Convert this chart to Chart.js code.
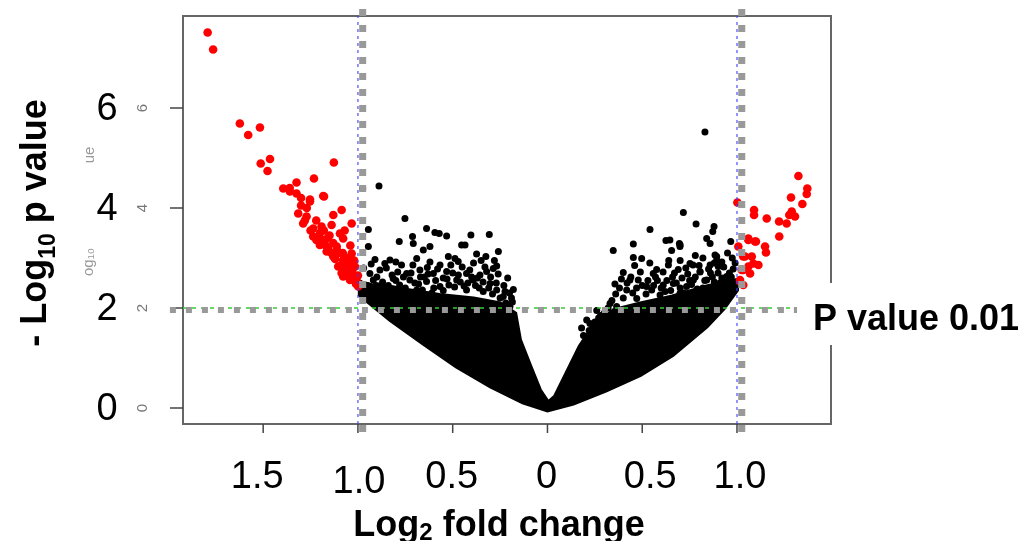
<!DOCTYPE html>
<html>
<head>
<meta charset="utf-8">
<script src="https://cdn.jsdelivr.net/npm/chart.js@4.4.1/dist/chart.umd.min.js"></script>
<style>
html,body{margin:0;padding:0;background:#fff;}
#wrap{width:1031px;height:541px;}
</style>
</head>
<body>
<div id="wrap"><canvas id="volcano" width="1031" height="541"></canvas></div>
<script>
// axis ranges and ticks
const xMin = -1.923, xMax = 1.496;
const yMin = -0.32, yMax = 7.84;
const xTicks = [-1.5, -1, -0.5, 0, 0.5, 1];
const xTickLabels = ['1.5', '1.0', '0.5', '0', '0.5', '1.0'];
const yTicks = [0, 2, 4, 6];
const yTickLabels = ['0', '2', '4', '6'];
const foldCut = 1;
const pCut = 2;

// outline of the solid black cloud of genes
const cloudX = [-0.99,-0.99,-0.83,-0.655,-0.48,-0.30,-0.13,0.0,0.136,0.31,0.49,0.66,0.84,0.93,1.0,1.0,0.84,0.66,0.49,0.35,0.24,0.17,0.10,0.04,0.004,-0.04,-0.09,-0.145,-0.17,-0.25,-0.39,-0.57,-0.74,-0.92];
const cloudY = [2.56,2.26,1.76,1.29,0.83,0.43,0.11,-0.05,0.09,0.35,0.66,1.06,1.63,1.99,2.36,2.56,2.43,2.23,2.09,1.96,1.63,1.23,0.69,0.23,0.11,0.36,0.83,1.36,1.89,2.09,2.19,2.26,2.36,2.49];

// scattered non-significant genes
const nsX = [-0.975,-0.889,-0.752,-0.945,-0.945,-0.638,-0.594,-0.571,-0.532,-0.404,-0.307,-0.782,-0.712,-0.708,-0.655,-0.620,-0.453,-0.435,-0.259,-0.374,-0.325,-0.690,-0.523,-0.488,-0.471,-0.910,-0.831,-0.858,-0.770,-0.634,-0.567,-0.268,-0.286,-0.180,-0.224,-0.198,-0.743,-0.673,-0.602,-0.532,-0.427,-0.356,-0.321,-0.884,-0.937,-0.814,-0.726,-0.638,-0.479,-0.391,-0.303,-0.233,-0.919,-0.567,-0.690,-0.427,-0.339,-0.268,
  -0.86,-0.78,-0.70,-0.60,-0.52,-0.44,-0.36,-0.29,-0.22,-0.19,-0.65,-0.55,-0.47,-0.40,-0.82,
  -0.95,-0.90,-0.87,-0.85,-0.80,-0.79,-0.76,-0.75,-0.72,-0.68,-0.67,-0.63,-0.61,-0.59,-0.58,-0.55,-0.53,-0.50,-0.49,-0.46,-0.45,-0.42,-0.41,-0.38,-0.37,-0.34,-0.33,-0.31,-0.30,-0.27,-0.26,-0.25,-0.23,-0.21,-0.20,-0.185,-0.24,-0.88,-0.84,-0.66,-0.73,-0.97,-0.93,-0.62,-0.51,-0.39,-0.71,-0.80,-0.35,-0.28,
  0.717,0.784,0.541,0.879,0.872,0.840,0.858,0.967,0.646,0.625,0.696,0.699,0.655,0.453,0.347,0.453,0.497,0.893,0.901,0.858,0.752,0.638,0.576,0.558,0.690,0.805,0.400,0.435,0.479,0.356,0.770,0.945,0.523,0.611,0.664,0.734,0.893,0.840,0.418,0.594,0.699,0.471,0.805,0.963,0.330,0.365,0.207,0.242,0.224,0.831,
  0.40,0.45,0.55,0.62,0.70,0.76,0.82,0.88,0.92,0.96,0.50,0.58,0.66,0.74,0.86,0.30,0.27,0.884,0.893,0.768,0.805,0.700,
  0.36,0.38,0.42,0.44,0.47,0.49,0.52,0.53,0.56,0.57,0.60,0.61,0.63,0.65,0.67,0.68,0.71,0.72,0.73,0.75,0.78,0.79,0.80,0.83,0.84,0.85,0.87,0.89,0.90,0.91,0.93,0.94,0.95,0.97,0.98,0.99,0.975,0.95,0.92,0.88,0.32,0.34,0.28,0.25,0.22,0.19,0.18,0.26,0.39,0.46,0.54,0.64,0.70,0.82,0.78];
const nsY = [4.39,4.44,3.79,3.57,3.23,3.59,3.51,3.49,3.44,3.46,3.47,3.33,3.43,3.29,3.16,3.23,3.26,3.26,3.13,3.08,3.03,2.99,3.03,2.99,2.93,2.97,2.96,2.89,2.86,2.81,2.86,2.84,2.79,2.37,2.33,2.03,2.69,2.76,2.69,2.73,2.69,2.66,2.73,2.76,2.69,2.59,2.56,2.53,2.56,2.56,2.49,2.23,2.56,2.43,2.36,2.36,2.33,2.36,
  2.40,2.46,2.50,2.40,2.46,2.44,2.40,2.28,2.10,2.20,2.62,2.60,2.66,2.62,2.66,
  2.45,2.62,2.52,2.80,2.55,2.72,2.62,2.40,2.70,2.48,2.62,2.68,2.30,2.55,2.78,2.35,2.58,2.70,2.42,2.52,2.82,2.50,2.76,2.45,2.60,2.52,2.82,2.40,2.62,2.50,2.68,2.20,2.45,2.60,2.30,2.12,2.00,2.35,2.45,2.36,2.30,2.80,2.88,2.92,2.86,2.90,2.86,2.92,2.95,2.95,
  3.91,3.68,3.57,3.63,3.53,3.39,3.29,3.33,3.36,3.35,3.29,3.23,3.15,3.28,3.15,3.01,2.99,3.03,2.83,2.86,2.89,2.86,2.77,2.69,2.77,2.73,2.71,2.56,2.56,2.48,2.56,2.63,2.43,2.46,2.49,2.43,2.43,2.56,2.36,2.26,2.29,2.19,2.29,2.49,2.09,2.03,1.76,1.63,1.69,5.52,
  2.20,2.30,2.36,2.33,2.40,2.47,2.40,2.52,2.60,2.70,2.45,2.55,2.62,2.68,2.70,1.90,1.80,3.06,2.96,2.86,2.72,3.26,
  2.28,2.40,2.50,2.62,2.40,2.72,2.28,2.55,2.45,2.62,2.40,2.72,2.55,2.35,2.70,2.50,2.60,2.30,2.80,2.55,2.62,2.38,2.85,2.55,2.30,2.78,2.62,2.38,2.70,2.50,2.82,2.45,2.55,2.62,2.78,2.90,3.00,3.10,2.92,2.90,2.00,2.15,1.85,1.72,1.55,1.45,1.60,1.95,2.58,2.85,2.90,2.95,2.95,3.00,3.05];

// significant genes (red)
const sigX = [-1.793,-1.764,-1.623,-1.579,-1.517,-1.513,-1.464,-1.477,-1.127,-1.232,-1.324,-1.394,-1.359,-1.253,-1.183,-1.324,-1.253,-1.179,-1.315,-1.271,-1.130,-1.086,-1.033,-1.289,-1.236,-1.192,-1.139,-1.236,-1.183,-1.095,-1.078,-1.201,-1.157,-1.130,-1.078,-1.033,-1.104,-1.060,-1.025,-1.007,-1.042,-0.998,-1.078,-1.165,-1.219,-1.112,-1.051,-1.016,-1.086,
  -1.28,-1.25,-1.21,-1.17,-1.14,-1.12,-1.09,-1.06,-1.04,-1.01,-1.20,-1.15,-1.10,-1.05,-1.30,
  -1.36,-1.30,-1.27,-1.22,-1.18,-1.16,-1.13,-1.11,-1.08,-1.06,-1.03,-1.00,-1.02,-1.04,-1.07,
  1.324,1.371,1.368,1.285,1.345,1.002,1.090,1.090,1.157,1.222,1.262,1.289,1.306,1.276,1.223,1.060,1.100,1.148,1.153,1.007,1.033,1.078,1.113,1.060,1.025,1.069,1.016,1.033,1.060,1.095,1.042,1.086,1.016,1.033];
const sigY = [7.51,7.17,5.69,5.46,5.61,4.89,4.98,4.74,4.91,4.59,4.51,4.39,4.33,4.17,4.24,4.29,4.13,4.23,3.89,3.83,3.86,3.96,3.69,3.69,3.59,3.63,3.66,3.43,3.36,3.49,3.39,3.26,3.19,3.03,2.96,3.09,2.83,2.76,2.66,2.56,2.56,2.43,2.63,3.13,3.36,3.23,2.89,2.83,2.70,
  3.75,3.55,3.40,3.25,3.10,2.98,2.85,2.70,2.62,2.48,3.50,3.45,3.10,3.00,4.05,
  4.40,4.20,4.00,3.75,3.55,3.40,3.30,3.15,3.10,2.90,2.75,2.65,2.95,3.25,3.55,
  4.64,4.39,4.28,4.21,4.08,4.11,3.96,3.86,3.79,3.73,3.69,3.93,3.83,3.86,3.43,3.39,3.33,3.23,3.11,3.23,3.03,3.03,2.86,2.83,2.76,2.69,2.53,2.46,3.36,3.33,3.03,2.89,2.56,2.76];

const pts = (xs, ys) => xs.map((v, i) => ({x: v, y: ys[i]}));

const FONT = '"Liberation Sans", Arial, Helvetica, sans-serif';

function richText(ctx, parts, cx, baseY, size, subSize, drop) {
    let w = 0;
    parts.forEach(p => {
        ctx.font = 'bold ' + (p[1] ? subSize : size) + 'px ' + FONT;
        w += ctx.measureText(p[0]).width;
    });
    let x = cx - w / 2;
    ctx.textAlign = 'left';
    ctx.textBaseline = 'alphabetic';
    parts.forEach(p => {
        ctx.font = 'bold ' + (p[1] ? subSize : size) + 'px ' + FONT;
        ctx.fillText(p[0], x, baseY + (p[1] ? drop : 0));
        x += ctx.measureText(p[0]).width;
    });
}

// R style box, ticks and the overlaid labels
const frame = {
    id: 'frame',
    beforeDatasetsDraw(chart) {
        const {ctx, chartArea: a, scales: {x, y}} = chart;
        ctx.save();
        ctx.strokeStyle = '#666';
        ctx.lineWidth = 2;
        ctx.strokeRect(a.left, a.top, a.right - a.left, a.bottom - a.top);
        ctx.lineWidth = 1.5;
        ctx.strokeStyle = '#444';
        xTicks.forEach(v => {
            const px = x.getPixelForValue(v);
            ctx.beginPath(); ctx.moveTo(px, a.bottom); ctx.lineTo(px, a.bottom + 9); ctx.stroke();
        });
        yTicks.forEach(v => {
            const py = y.getPixelForValue(v);
            ctx.beginPath(); ctx.moveTo(a.left - 13, py); ctx.lineTo(a.left, py); ctx.stroke();
        });
        // small original tick labels
        ctx.fillStyle = '#777';
        ctx.font = '15px ' + FONT;
        ctx.textAlign = 'center';
        ctx.textBaseline = 'middle';
        yTicks.forEach(v => {
            ctx.save();
            ctx.translate(a.left - 40, y.getPixelForValue(v));
            ctx.rotate(-Math.PI / 2);
            ctx.fillText(String(v), 0, 0);
            ctx.restore();
        });
        // leftovers of the original axis title
        ctx.fillStyle = '#999';
        ctx.save(); ctx.translate(90, 155); ctx.rotate(-Math.PI / 2); ctx.fillText('ue', 0, 0); ctx.restore();
        ctx.save(); ctx.translate(89, 262); ctx.rotate(-Math.PI / 2); ctx.fillText('og\u2081\u2080', 0, 0); ctx.restore();
        ctx.restore();
    },
    afterDraw(chart) {
        const {ctx, chartArea: a, scales: {x, y}} = chart;
        ctx.save();
        // white patch behind the cutoff label
        ctx.fillStyle = '#fff';
        ctx.fillRect(a.right - 34, 283, 240, 62);
        ctx.fillStyle = '#000';
        ctx.font = 'bold 36px ' + FONT;
        ctx.textAlign = 'left';
        ctx.textBaseline = 'alphabetic';
        ctx.fillText('P value 0.01', a.right - 18, y.getPixelForValue(pCut) + 22);

        // big tick labels
        ctx.font = '38px ' + FONT;
        ctx.textAlign = 'center';
        ctx.textBaseline = 'middle';
        yTicks.forEach((v, i) => {
            ctx.fillText(yTickLabels[i], a.left - 76, y.getPixelForValue(v) + 2);
        });
        const dx = [-6, 1, -1, -1, 8, 3];
        const dy = [0, 5, 0, 0, 0, 0];
        ctx.textBaseline = 'alphabetic';
        xTicks.forEach((v, i) => {
            ctx.fillText(xTickLabels[i], x.getPixelForValue(v) + dx[i], a.bottom + 64 + dy[i]);
        });

        // axis titles
        richText(ctx, [['Log', 0], ['2', 1], [' fold change', 0]], 499, 536, 36, 24, 4);
        ctx.save();
        ctx.translate(46, 223);
        ctx.rotate(-Math.PI / 2);
        richText(ctx, [['- Log', 0], ['10', 1], [' p value', 0]], 0, 0, 36, 23, 9);
        ctx.restore();
        ctx.restore();
    }
};

new Chart(document.getElementById('volcano'), {
    type: 'scatter',
    data: {
        datasets: [
            {
                type: 'line',
                data: pts(cloudX, cloudY),
                fill: 'shape',
                backgroundColor: '#000',
                borderColor: '#000',
                borderWidth: 4,
                pointRadius: 0,
                tension: 0,
                order: 4
            },
            {
                data: pts(nsX, nsY),
                backgroundColor: '#000',
                borderWidth: 0,
                pointRadius: 3.5,
                order: 3
            },
            {
                data: pts(sigX, sigY),
                backgroundColor: '#ff0000',
                borderWidth: 0,
                pointRadius: 4.3,
                order: 2
            },
            // cutoff lines
            {
                data: [{x: -foldCut, y: yMin}, {x: -foldCut, y: yMax}],
                showLine: true, borderColor: 'rgba(60,60,255,0.9)', borderWidth: 1.2,
                borderDash: [3, 4], pointRadius: 0, order: 1
            },
            {
                data: [{x: foldCut, y: yMin}, {x: foldCut, y: yMax}],
                showLine: true, borderColor: 'rgba(60,60,255,0.9)', borderWidth: 1.2,
                borderDash: [3, 4], pointRadius: 0, order: 1
            },
            {
                data: [{x: xMin, y: pCut}, {x: xMax, y: pCut}],
                showLine: true, borderColor: '#33cc33', borderWidth: 1.5,
                borderDash: [4, 5], pointRadius: 0, order: 1
            },
            // grey marker lines drawn over the figure
            {
                data: [{x: -0.975, y: 7.98}, {x: -0.975, y: -0.62}],
                showLine: true, borderColor: '#999', borderWidth: 7,
                borderDash: [7, 9], pointRadius: 0, clip: false, order: 0
            },
            {
                data: [{x: 1.025, y: 7.98}, {x: 1.025, y: -0.62}],
                showLine: true, borderColor: '#999', borderWidth: 7,
                borderDash: [7, 9], pointRadius: 0, clip: false, order: 0
            },
            {
                data: [{x: -1.992, y: 1.96}, {x: xMax, y: 1.96}],
                showLine: true, borderColor: '#999', borderWidth: 6,
                borderDash: [6, 10], pointRadius: 0, clip: false, order: 0
            }
        ]
    },
    options: {
        responsive: false,
        animation: false,
        events: [],
        layout: {padding: {left: 183, right: 200, top: 16, bottom: 117}},
        scales: {
            x: {type: 'linear', display: false, min: xMin, max: xMax},
            y: {type: 'linear', display: false, min: yMin, max: yMax}
        },
        plugins: {legend: {display: false}, tooltip: {enabled: false}}
    },
    plugins: [frame]
});
</script>
</body>
</html>
